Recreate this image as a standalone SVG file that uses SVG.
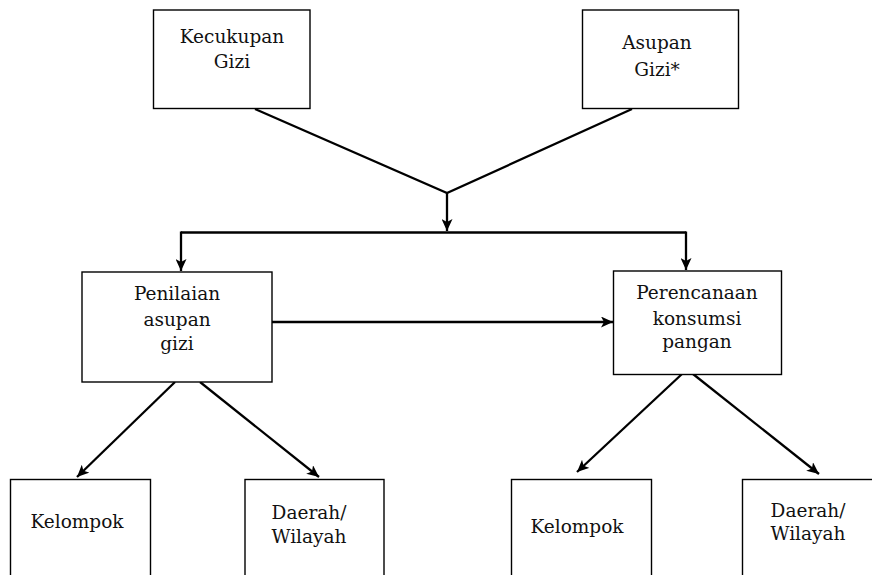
<svg xmlns="http://www.w3.org/2000/svg" width="872" height="575" viewBox="0 0 872 575">
<defs>
<marker id="ah" markerUnits="userSpaceOnUse" markerWidth="13" markerHeight="11" refX="12" refY="5.5" orient="auto">
<path d="M0,0 L12,5.5 L0,11 L3,5.5 Z" fill="#000"/>
</marker>
</defs>
<style>
.box{fill:#fff;stroke:#000;stroke-width:1.4}
.t{font-family:"DejaVu Serif","Liberation Serif",serif;font-size:18.5px;fill:#111;text-anchor:middle}
.c{fill:none;stroke:#000;stroke-width:2.3}
.a{fill:none;stroke:#000;stroke-width:2.3;marker-end:url(#ah)}
</style>
<rect width="872" height="575" fill="#fff"/>
<g id="connectors">
<path class="c" d="M255,109 L447,193 L632,109"/>
<path class="a" d="M447,193 L447,231"/>
<path class="c" d="M181,232.5 L686,232.5"/>
<path class="a" d="M181,231.5 L181,271"/>
<path class="a" d="M686,231.5 L686,270"/>
<path class="a" d="M272,322 L613,322"/>
<path class="a" d="M175,382 L77,477"/>
<path class="a" d="M200,382 L319,477"/>
<path class="a" d="M682,374 L577,472"/>
<path class="a" d="M693,374 L819,474"/>
</g>
<g id="kecukupan">
<rect class="box" x="153.5" y="10" width="156.5" height="98.5"/>
<text class="t" x="232" y="43">Kecukupan</text>
<text class="t" x="232" y="68">Gizi</text>
</g>
<g id="asupan">
<rect class="box" x="582.5" y="10" width="156" height="98.5"/>
<text class="t" x="657" y="49">Asupan</text>
<text class="t" x="657" y="76">Gizi*</text>
</g>
<g id="penilaian">
<rect class="box" x="82" y="272" width="190" height="110"/>
<text class="t" x="177" y="300">Penilaian</text>
<text class="t" x="177" y="325.5">asupan</text>
<text class="t" x="177" y="350">gizi</text>
</g>
<g id="perencanaan">
<rect class="box" x="613.5" y="271" width="168" height="103.5"/>
<text class="t" x="697" y="299">Perencanaan</text>
<text class="t" x="697" y="325">konsumsi</text>
<text class="t" x="697" y="348">pangan</text>
</g>
<g id="kelompok1">
<rect class="box" x="10.5" y="479.5" width="140" height="110"/>
<text class="t" x="77" y="528">Kelompok</text>
</g>
<g id="daerah1">
<rect class="box" x="245" y="479.5" width="139" height="110"/>
<text class="t" x="309" y="519">Daerah/</text>
<text class="t" x="309" y="543">Wilayah</text>
</g>
<g id="kelompok2">
<rect class="box" x="511.5" y="479.5" width="140" height="110"/>
<text class="t" x="577" y="533">Kelompok</text>
</g>
<g id="daerah2">
<rect class="box" x="742.5" y="479.5" width="140" height="110"/>
<text class="t" x="808" y="517">Daerah/</text>
<text class="t" x="808" y="540">Wilayah</text>
</g>
</svg>
